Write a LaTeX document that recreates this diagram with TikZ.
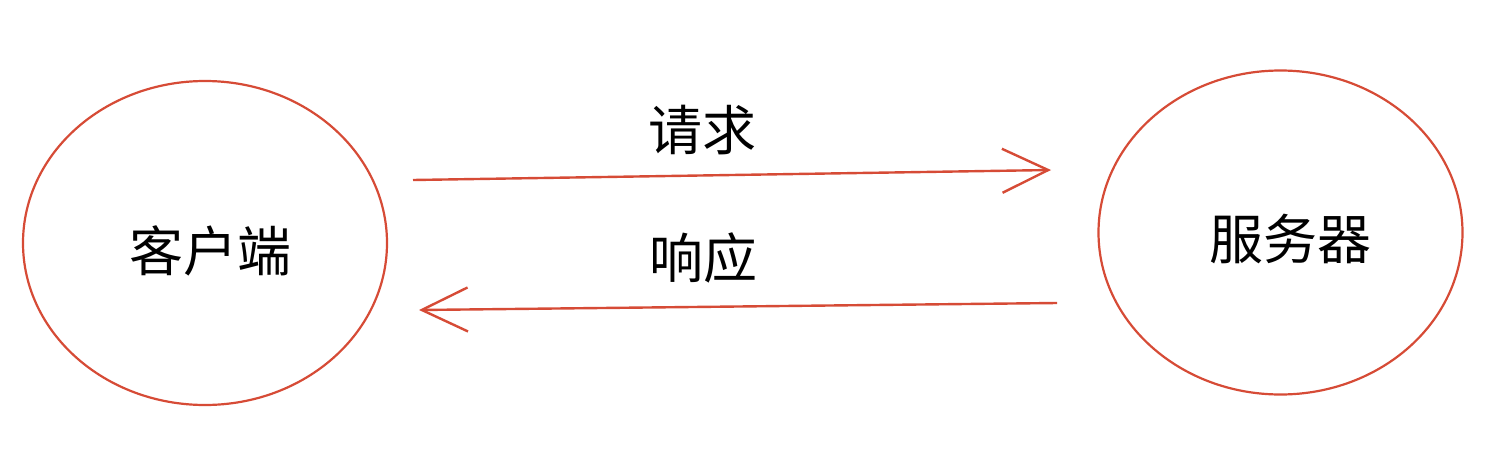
\documentclass[tikz,border=0pt]{standalone}
\usepackage{fontspec}
\newfontfamily\cjk{Noto Sans CJK SC}
\usetikzlibrary{shapes.geometric,arrows.meta}
\definecolor{linered}{HTML}{D64B36}
\tikzset{
  endpoint/.style={ellipse, draw=linered, line width=2.2pt, inner sep=0pt,
    minimum width=364pt, minimum height=324pt},
  bigtext/.style={font=\cjk\fontsize{54}{62}\selectfont, text=black},
  flow/.style={draw=linered, line width=2.4pt,
    -{Straight Barb[length=46pt,width=44pt,line width=2.4pt]}}
}
\begin{document}
\begin{tikzpicture}[x=1pt,y=-1pt]
\useasboundingbox (0,0) rectangle (1486,458);
\node[endpoint] (client) at (205,243) {};
\node[endpoint] (server) at (1280.5,232.5) {};
\node[bigtext] (clientlbl) at (210,251) {客户端};
\node[bigtext] (serverlbl) at (1290,239) {服务器};
\coordinate (reqA) at (413,180);
\coordinate (reqB) at (1051,170);
\coordinate (resA) at (1057,303);
\coordinate (resB) at (419,310);
\draw[flow] (reqA) -- (reqB);
\draw[flow] (resA) -- (resB);
\node[bigtext] (reqlbl) at (702,130) {请求};
\node[bigtext] (reslbl) at (703,258) {响应};
\end{tikzpicture}
\end{document}
